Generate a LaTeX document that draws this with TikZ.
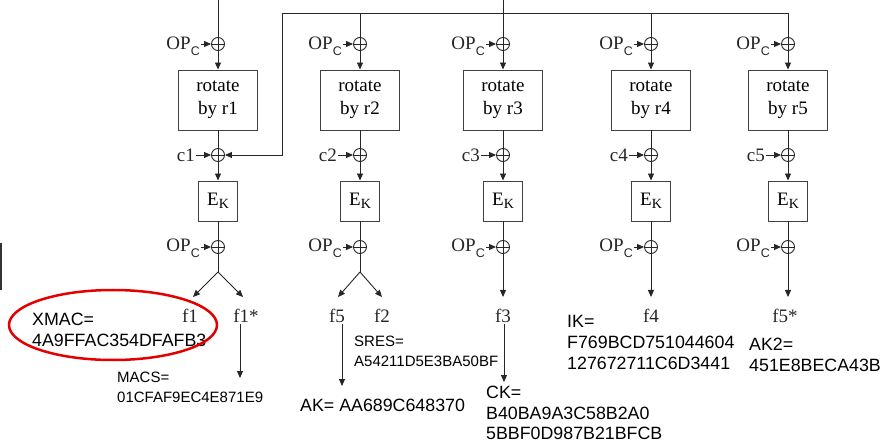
\documentclass[tikz,border=0pt]{standalone}
\usepackage{fontspec}
\setmainfont{Liberation Serif}
\setsansfont{Liberation Sans}
\usetikzlibrary{arrows.meta}

\newcommand{\OPsub}{OP\raisebox{-6pt}{\fontsize{12.5}{12.5}\selectfont\sffamily C}}
\newcommand{\EKsub}{E\raisebox{-3pt}{\fontsize{14}{14}\selectfont K}}

\tikzset{
    wire/.style={line width=0.9pt, black!85},
    arr/.style={wire, -{Triangle[length=7pt,width=6pt]}},
    xorop/.style={draw=black!85, circle, minimum size=13pt, inner sep=0pt, line width=0.9pt,
        path picture={\draw[line width=0.9pt, black!85]
            (path picture bounding box.north) -- (path picture bounding box.south)
            (path picture bounding box.west) -- (path picture bounding box.east);}},
    rotbox/.style={draw=black!75, line width=0.9pt, minimum width=79pt, minimum height=60pt,
        align=center, inner sep=0pt, font=\fontsize{19}{23}\selectfont},
    ekbox/.style={draw=black!75, line width=0.9pt, minimum width=39pt, minimum height=40pt,
        inner sep=0pt, font=\fontsize{19}{21}\selectfont},
    serif/.style={font=\fontsize{19}{21}\selectfont, inner sep=1pt, text=black!85},
    hexbig/.style={font=\sffamily\fontsize{17.8}{20.8}\selectfont, align=left, inner sep=0pt, anchor=north west},
    hexsmall/.style={font=\sffamily\fontsize{15}{19.8}\selectfont, align=left, inner sep=0pt, anchor=north west},
}

\begin{document}
\begin{tikzpicture}[x=1pt, y=-1pt]
    \useasboundingbox (0,0) rectangle (885,443);

    % five rounds, one per column
    \foreach \i/\x in {1/218,2/360,3/503,4/651,5/788} {
        \node[xorop] (xa\i) at (\x,44) {};
        \node[serif, anchor=base east] (opa\i) at (\x-17,50) {\OPsub};
        \draw[arr] (opa\i.east |- xa\i) -- (xa\i.west);

        \node[rotbox] (rot\i) at (\x,100) {rotate\\by r\i};
        \draw[arr] (xa\i) -- (rot\i);

        \node[xorop] (xb\i) at (\x,155) {};
        \node[serif, anchor=base east] (c\i) at (\x-22,162) {c\i};
        \draw[arr] (c\i.east |- xb\i) -- (xb\i.west);
        \draw[wire] (rot\i) -- (xb\i);

        \node[ekbox] (ek\i) at (\x,201) {\EKsub};
        \draw[arr] (xb\i) -- (ek\i);

        \node[xorop] (xc\i) at (\x,247) {};
        \node[serif, anchor=base east] (opc\i) at (\x-17,252) {\OPsub};
        \draw[arr] (opc\i.east |- xc\i) -- (xc\i.west);
        \draw[wire] (ek\i) -- (xc\i);
    }

    % inputs and the bus along the top
    \coordinate (in1) at (218,0);
    \coordinate (in3) at (503,0);
    \coordinate (busl) at (282,13);
    \coordinate (busr) at (788,13);
    \draw[wire] (in1) -- (xa1);
    \draw[wire] (in3) -- (xa3);
    \draw[wire] (busl) -- (busr);
    \foreach \i in {2,4,5} \draw[wire] (xa\i |- busl) -- (xa\i);
    \draw[arr] (busl) |- (xb1.east);

    % outputs
    \node[serif] (f1) at (190,316) {f1};
    \node[serif] (f1s) at (246,316) {f1*};
    \node[serif] (f5) at (337,316) {f5};
    \node[serif] (f2) at (382,316) {f2};
    \node[serif] (f3) at (503,316) {f3};
    \node[serif] (f4) at (651,316) {f4};
    \node[serif] (f5s) at (785,316) {f5*};

    \coordinate (sp1) at (218,272);
    \coordinate (sp2) at (360,272);
    \draw[wire] (xc1) -- (sp1);
    \draw[wire] (xc2) -- (sp2);
    \draw[arr] (sp1) -- (193,297);
    \draw[arr] (sp1) -- (243,297);
    \draw[arr] (sp2) -- (338,297);
    \draw[arr] (sp2) -- (382,297);
    \foreach \i in {3,4,5} \draw[arr] (xc\i) -- (xc\i |- 0,297);

    % values
    \node[hexbig] (xmac) at (32,313) {XMAC=\\4A9FFAC354DFAFB3};
    \node[hexsmall] (macs) at (117,372) {MACS=\\01CFAF9EC4E871E9};
    \node[hexsmall] (sres) at (354,336) {SRES=\\A54211D5E3BA50BF};
    \node[hexbig] (ak) at (300,399) {AK= AA689C648370};
    \node[hexbig, font=\sffamily\fontsize{17.8}{20.4}\selectfont] (ck) at (486,386) {CK=\\B40BA9A3C58B2A0\\5BBF0D987B21BFCB};
    \node[hexbig] (ik) at (567,315) {IK=\\F769BCD751044604\\127672711C6D3441};
    \node[hexbig] (ak2) at (749,338) {AK2=\\451E8BECA43B};

    \coordinate (macsin) at (240,378);
    \coordinate (akin) at (342,386);
    \coordinate (ckin) at (504,382);
    \draw[arr] (f1s.south -| macsin) -- (macsin);
    \draw[arr] (f5.south -| akin) -- (akin);
    \draw[arr] (f3.south -| ckin) -- (ckin);

    % highlight
    \draw[red!90!black, line width=2.5pt] (113,325) ellipse (104 and 35);
    \draw[black!80, line width=1.5pt] (0.75,243) -- (0.75,290);
\end{tikzpicture}
\end{document}
